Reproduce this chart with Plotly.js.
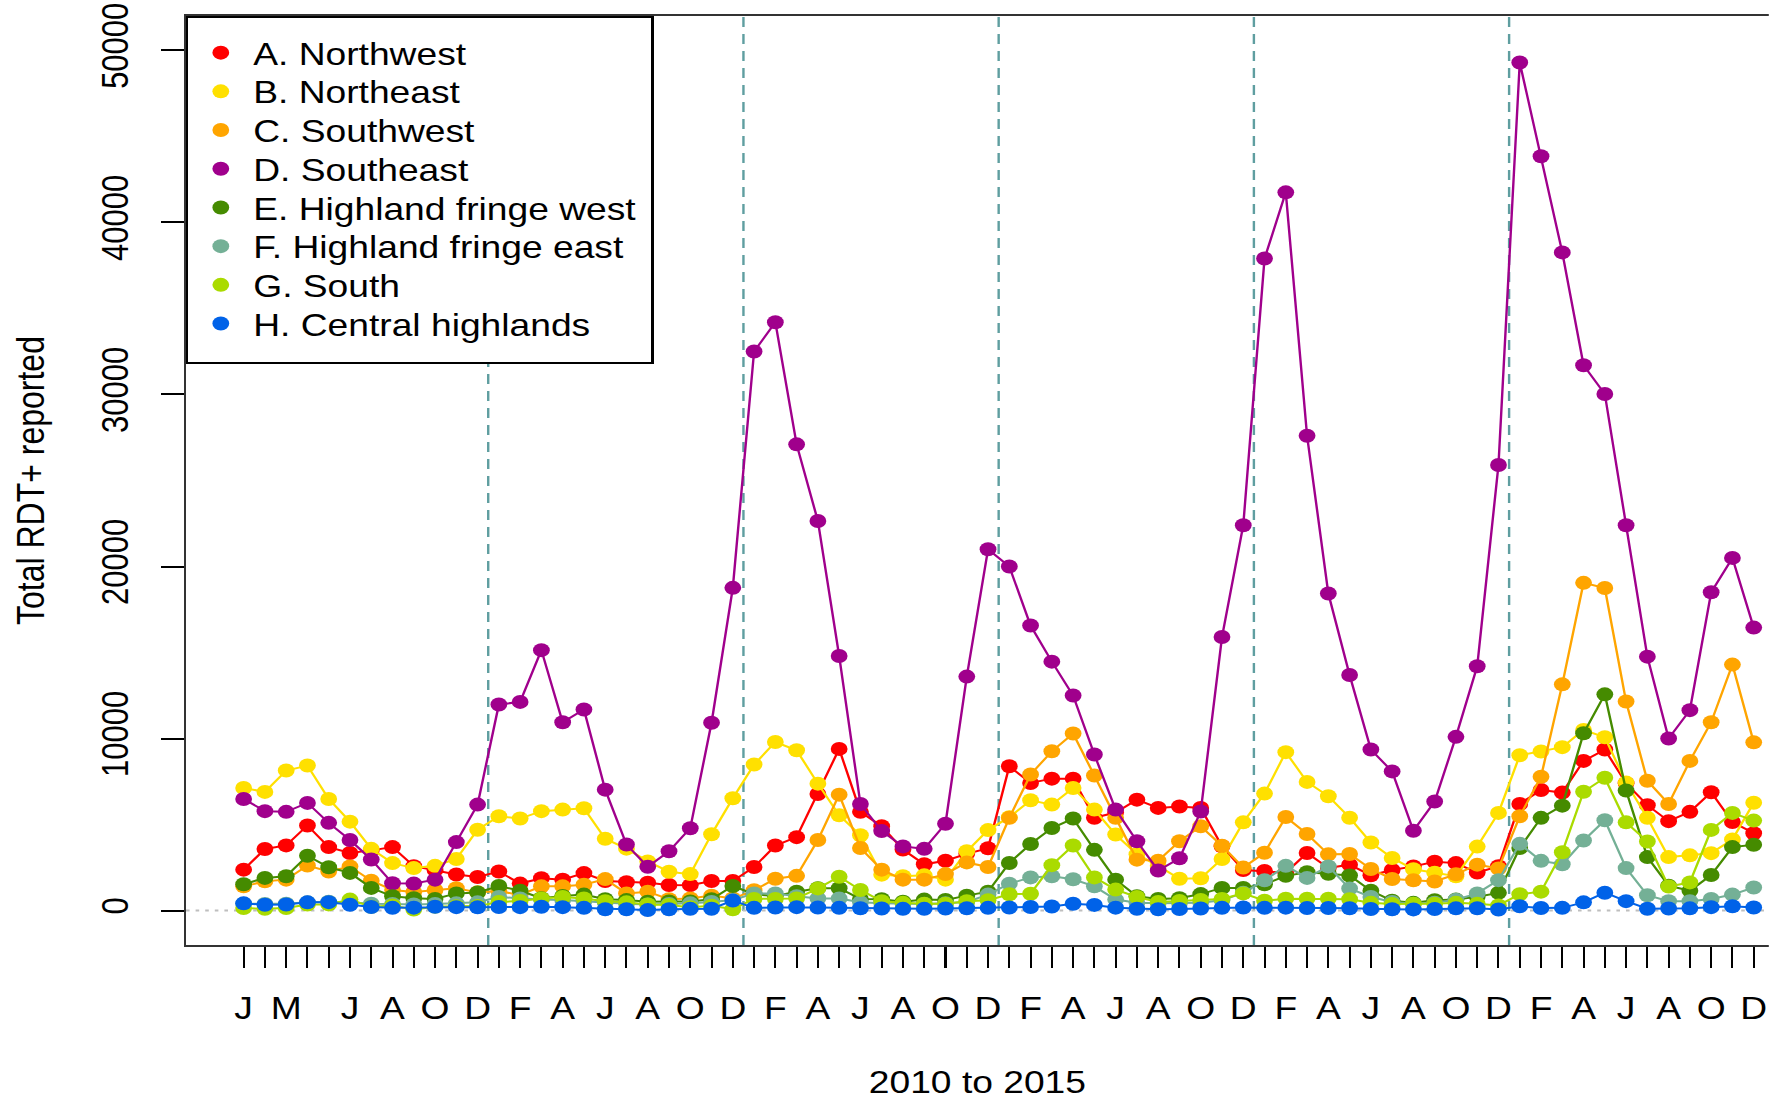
<!DOCTYPE html>
<html><head><meta charset="utf-8">
<script src="https://cdn.plot.ly/plotly-3.0.1.min.js"></script>
<style>
html,body{margin:0;padding:0;background:#fff;overflow:hidden;}
#chart{width:1474px;height:1100px;transform:scaleX(1.2);transform-origin:0 0;}
</style></head><body><div id="chart"></div>
<script>
// Month index 0..71 = Jan 2010 .. Dec 2015
const monthIndex = Array.from({length: 72}, (_, i) => i);
const tickLabels = [
  'J','','M','','','J','','A','','O','','D',
  '','F','','A','','J','','A','','O','','D',
  '','F','','A','','J','','A','','O','','D',
  '','F','','A','','J','','A','','O','','D',
  '','F','','A','','J','','A','','O','','D',
  '','F','','A','','J','','A','','O','','D'
];
const yearStarts = [12, 24, 36, 48, 60];
const yTicks = [0, 10000, 20000, 30000, 40000, 50000];

const regionNames = ['A. Northwest','B. Northeast','C. Southwest','D. Southeast',
  'E. Highland fringe west','F. Highland fringe east','G. South','H. Central highlands'];
const regionColors = ['#FF0000','#FFE000','#FFA500','#A0008C','#458B00','#74B096','#AADB00','#0062E8'];

const northwest = [2380,3580,3790,4950,3690,3350,3500,3690,2580,2350,2100,1950,
  2270,1570,1880,1800,2180,1720,1650,1620,1490,1480,1720,1720,
  2530,3780,4270,6780,9400,5740,4900,3550,2690,2900,3300,3620,
  8390,7420,7670,7670,5400,5700,6450,5970,6050,5960,3740,2360,
  2300,2200,3350,2480,2670,2050,2360,2570,2840,2760,2210,2580,
  6200,7010,6860,8700,9360,7400,6130,5200,5740,6880,5150,4500];
const northeast = [7130,6900,8140,8430,6490,5170,3590,2760,2470,2600,3000,4700,
  5480,5350,5780,5870,5950,4180,3600,2860,2260,2120,4440,6530,
  8490,9800,9320,7380,5540,4380,2090,2000,2050,1800,3450,4680,
  5430,6410,6160,7130,5870,4420,3280,2600,1850,1880,3000,5130,
  6800,9210,7480,6650,5400,3960,3060,2400,2200,2000,3720,5680,
  9030,9250,9500,10500,10080,7440,5390,3110,3210,3340,4130,6270];
const southwest = [1410,1700,1800,2620,2270,2560,1740,1200,1080,1200,1300,1060,
  1130,910,1410,1410,1500,1830,1000,1100,660,700,870,700,
  1180,1850,2020,4100,6740,3640,2380,1800,1800,2120,2800,2530,
  5390,7910,9260,10290,7850,5390,2960,2900,4030,4900,3770,2500,
  3360,5440,4450,3270,3290,2420,1840,1760,1690,2110,2670,2450,
  5480,7780,13150,19050,18750,12150,7550,6200,8700,10950,14300,9780];
const southeast = [6490,5780,5740,6260,5100,4100,2970,1590,1570,1800,3980,6160,
  11980,12130,15140,10950,11690,7030,3840,2550,3450,4790,10920,18760,
  32500,34200,27100,22650,14800,6200,4620,3730,3590,5050,13600,21000,
  20000,16570,14470,12500,9070,5870,4030,2330,3040,5760,15900,22400,
  37900,41750,27600,18430,13690,9360,8090,4640,6340,10100,14200,25900,
  49300,43850,38260,31700,30030,22400,14760,10000,11650,18500,20500,16450];
const fringeWest = [1530,1900,2000,3190,2520,2190,1320,830,720,680,1000,1050,
  1430,1150,720,850,930,660,610,520,530,530,660,1430,
  950,850,1100,1300,1300,680,660,520,640,620,870,1100,
  2770,3870,4800,5350,3530,1800,830,680,720,960,1320,1320,
  1530,2020,2230,2140,2040,1160,570,450,600,640,800,1030,
  3640,5390,6100,10310,12570,6980,3110,1450,1150,2070,3690,3830];
const fringeEast = [400,380,400,480,520,480,400,380,350,380,420,480,
  790,700,640,620,540,450,400,350,380,420,500,620,
  990,1000,830,700,700,480,420,400,380,420,500,930,
  1560,1930,2000,1820,1410,640,450,420,420,450,600,1030,
  1760,2600,1900,2570,1280,790,500,400,460,630,1000,1770,
  3880,2890,2690,4070,5250,2470,890,540,550,680,930,1340];
const south = [150,100,150,350,360,640,220,300,60,230,250,260,
  500,560,700,790,700,540,480,350,330,200,280,80,
  680,680,700,1290,1970,1200,540,450,400,400,540,600,
  950,980,2640,3780,1930,1220,790,500,560,620,680,1000,
  570,690,690,690,660,450,380,400,400,450,400,300,
  950,1100,3390,6910,7720,5130,4020,1400,1640,4690,5680,5230];
const central = [420,340,350,480,490,340,210,160,170,220,200,190,
  210,200,220,200,160,80,80,30,80,100,110,580,
  160,180,200,180,160,140,120,100,100,120,140,160,
  180,210,240,400,330,170,110,80,90,120,160,180,
  160,170,150,150,140,90,80,70,90,130,140,60,
  250,150,160,480,1040,550,110,120,130,200,250,180];

const seriesValues = [northwest, northeast, southwest, southeast, fringeWest, fringeEast, south, central];

const FONT = 'Liberation Sans, Arial, sans-serif';
const traces = [];
seriesValues.forEach((vals, k) => {
  traces.push({
    x: monthIndex, y: vals, type: 'scatter', mode: 'lines+markers',
    line: {color: regionColors[k], width: 2},
    marker: {color: regionColors[k], size: 14},
    showlegend: false, hoverinfo: 'skip', cliponaxis: false
  });
});
regionNames.forEach((name, k) => {
  traces.push({
    x: [null], y: [null], type: 'scatter', mode: 'markers', name: name,
    marker: {color: regionColors[k], size: 14}, showlegend: true
  });
});

const shapes = yearStarts.map(m => ({
  type: 'line', xref: 'x', yref: 'paper', x0: m - 0.5, x1: m - 0.5, y0: 0, y1: 1,
  line: {color: '#5F9EA0', width: 2, dash: '10px,7px'}, layer: 'below'
}));
shapes.push({
  type: 'line', xref: 'paper', yref: 'y', x0: 0, x1: 1, y0: 0, y1: 0,
  line: {color: '#BEBEBE', width: 2, dash: '3px,5px'}, layer: 'below'
});

const layout = {
  width: 1474, height: 1100,
  margin: {l: 155, r: 0, t: 16, b: 155, pad: 0},
  paper_bgcolor: '#fff', plot_bgcolor: '#fff',
  font: {family: FONT, size: 31, color: '#000'},
  showlegend: true,
  legend: {x: 0, y: 1, xanchor: 'left', yanchor: 'top', bgcolor: '#fff',
    bordercolor: '#000', borderwidth: 2, font: {family: FONT, size: 31, color: '#000'},
    itemwidth: 44, tracegroupgap: 0},
  xaxis: {
    range: [-2.71, 71.71], tickmode: 'array', tickvals: monthIndex, ticktext: tickLabels,
    tickangle: 0, ticks: 'outside', ticklen: 21, tickwidth: 1.7, tickcolor: '#000',
    showline: true, linecolor: '#333', linewidth: 2, mirror: true,
    showgrid: false, zeroline: false, tickfont: {family: FONT, size: 31, color: '#000'},
    ticklabelstandoff: 14,
    title: {text: '2010 to 2015', font: {family: FONT, size: 31, color: '#000'}, standoff: 47}
  },
  yaxis: {
    range: [-2000, 52000], tickmode: 'array', tickvals: yTicks, ticktext: yTicks.map(String),
    tickangle: -90, ticks: 'outside', ticklen: 19, tickwidth: 2, tickcolor: '#000',
    showline: true, linecolor: '#333', linewidth: 2, mirror: false,
    showgrid: false, zeroline: false, tickfont: {family: FONT, size: 31, color: '#000'},
    ticklabelstandoff: 15,
    title: {text: 'Total RDT+ reported', font: {family: FONT, size: 32, color: '#000'}, standoff: 32}
  },
  shapes: shapes
};

function tightenLegend(gd) {
  try {
    const legend = gd.querySelector('.legend');
    if (!legend) return;
    const parse = el => {
      const m = /translate\(\s*([-\d.eE]+)[ ,]+([-\d.eE]+)\s*\)/.exec(el.getAttribute('transform') || '');
      return m ? [parseFloat(m[1]), parseFloat(m[2])] : null;
    };
    const items = Array.from(legend.querySelectorAll('g.traces')).filter(el => parse(el));
    if (items.length < 2) return;
    items.sort((a, b) => parse(a)[1] - parse(b)[1]);
    const y0 = parse(items[0])[1];
    items.forEach((el, i) => {
      const p = parse(el);
      el.setAttribute('transform', 'translate(' + p[0] + ',' + (y0 + 8 + i * 38.7) + ')');
    });
    const bg = legend.querySelector('rect.bg');
    if (bg) {
      bg.setAttribute('height', parseFloat(bg.getAttribute('height')) - 13);
      bg.setAttribute('width', parseFloat(bg.getAttribute('width')) + 6.6);
    }
  } catch (e) {}
}

Plotly.newPlot('chart', traces, layout, {displayModeBar: false, staticPlot: true})
  .then(gd => tightenLegend(gd));
</script></body></html>
